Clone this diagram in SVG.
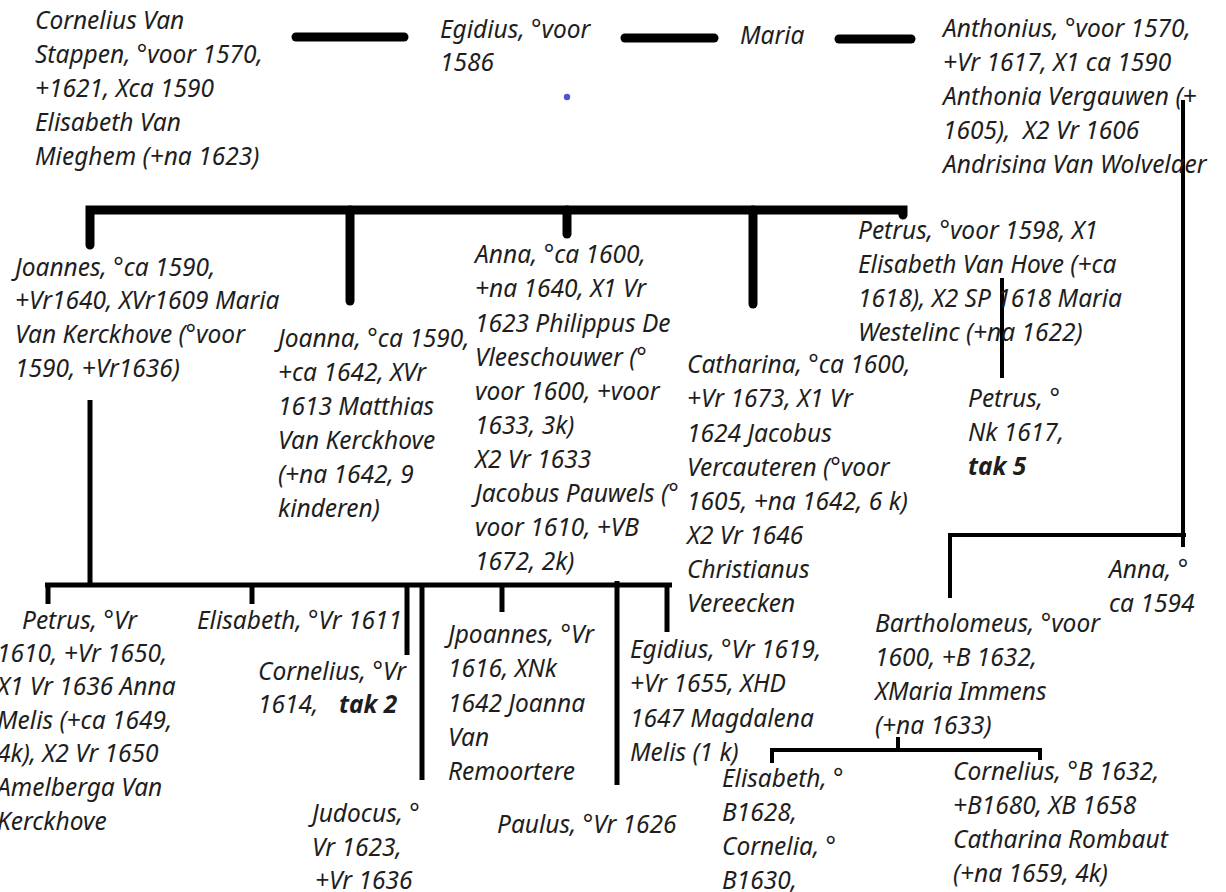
<svg xmlns="http://www.w3.org/2000/svg" width="1226" height="892" viewBox="0 0 1226 892">
<style>
text{font-family:"Noto Sans","Open Sans","DejaVu Sans",sans-serif;font-style:italic;font-size:24.5px;fill:#1e1e1e}
.b{font-weight:bold}
.thick{stroke:#000;stroke-width:9;stroke-linecap:round;fill:none}
.mid{stroke:#000;stroke-width:5;fill:none}
.thin{stroke:#000;stroke-width:4;fill:none}
</style>
<rect width="1226" height="892" fill="#fff"/>
<g id="connectors">
<line class="thick" x1="296" y1="37" x2="404" y2="37" stroke-width="10"/>
<line class="thick" x1="625" y1="38" x2="714" y2="38" stroke-width="10"/>
<line class="thick" x1="839" y1="39" x2="911" y2="39" stroke-width="10"/>
<path class="thick" d="M90 245 V210 H903 V215"/>
<line class="thick" x1="350" y1="210" x2="350" y2="301"/>
<line class="thick" x1="567" y1="210" x2="567" y2="234"/>
<line class="thick" x1="753" y1="210" x2="753" y2="304"/>
<line class="mid" x1="90" y1="400" x2="90" y2="585"/>
<path class="mid" d="M45 585 H672"/>
<line class="mid" x1="48" y1="585" x2="48" y2="604"/>
<line class="mid" x1="252" y1="585" x2="252" y2="604"/>
<line class="mid" x1="407" y1="585" x2="407" y2="655"/>
<line class="mid" x1="422" y1="585" x2="422" y2="780"/>
<line class="mid" x1="502" y1="585" x2="502" y2="612"/>
<line class="mid" x1="617" y1="581" x2="617" y2="785"/>
<line class="mid" x1="667" y1="583" x2="667" y2="632"/>
<line class="thin" x1="1002" y1="278" x2="1002" y2="378"/>
<path class="thin" d="M1183 100 V547 M950 598 V535 H1186"/>
<path class="thin" d="M772 763 V750 H1040 V760 M898 737 V750"/>
</g>
<circle cx="567" cy="97" r="3.2" fill="#4a55d6"/>
<g id="cornelius-van-stappen"><text x="35" y="29">Cornelius Van<tspan x="35" y="63">Stappen, °voor 1570,</tspan><tspan x="35" y="97">+1621, Xca 1590</tspan><tspan x="35" y="131">Elisabeth Van</tspan><tspan x="35" y="165">Mieghem (+na 1623)</tspan></text></g>
<g id="egidius"><text x="440" y="38">Egidius, °voor<tspan x="440" y="71">1586</tspan></text></g>
<g id="maria"><text x="740" y="44">Maria</text></g>
<g id="anthonius"><text x="943" y="37">Anthonius, °voor 1570,<tspan x="943" y="71">+Vr 1617, X1 ca 1590</tspan><tspan x="943" y="105">Anthonia Vergauwen (+</tspan><tspan x="943" y="139" xml:space="preserve">1605),  X2 Vr 1606</tspan><tspan x="943" y="173">Andrisina Van Wolvelaer</tspan></text></g>
<g id="joannes"><text x="15" y="276">Joannes, °ca 1590,<tspan x="15" y="309">+Vr1640, XVr1609 Maria</tspan><tspan x="15" y="343">Van Kerckhove (°voor</tspan><tspan x="15" y="377">1590, +Vr1636)</tspan></text></g>
<g id="joanna"><text x="278" y="347">Joanna, °ca 1590,<tspan x="278" y="381">+ca 1642, XVr</tspan><tspan x="278" y="415">1613 Matthias</tspan><tspan x="278" y="449">Van Kerckhove</tspan><tspan x="278" y="483">(+na 1642, 9</tspan><tspan x="278" y="517">kinderen)</tspan></text></g>
<g id="anna"><text x="475" y="263">Anna, °ca 1600,<tspan x="475" y="297">+na 1640, X1 Vr</tspan><tspan x="475" y="332">1623 Philippus De</tspan><tspan x="475" y="366">Vleeschouwer (°</tspan><tspan x="475" y="400">voor 1600, +voor</tspan><tspan x="475" y="434">1633, 3k)</tspan><tspan x="475" y="468">X2 Vr 1633</tspan><tspan x="475" y="502">Jacobus Pauwels (°</tspan><tspan x="475" y="536">voor 1610, +VB</tspan><tspan x="475" y="570">1672, 2k)</tspan></text></g>
<g id="catharina"><text x="687" y="373">Catharina, °ca 1600,<tspan x="687" y="407">+Vr 1673, X1 Vr</tspan><tspan x="687" y="442">1624 Jacobus</tspan><tspan x="687" y="476">Vercauteren (°voor</tspan><tspan x="687" y="510">1605, +na 1642, 6 k)</tspan><tspan x="687" y="544">X2 Vr 1646</tspan><tspan x="687" y="578">Christianus</tspan><tspan x="687" y="612">Vereecken</tspan></text></g>
<g id="petrus-1598"><text x="858" y="239">Petrus, °voor 1598, X1<tspan x="858" y="273">Elisabeth Van Hove (+ca</tspan><tspan x="858" y="307">1618), X2 SP 1618 Maria</tspan><tspan x="858" y="341">Westelinc (+na 1622)</tspan></text></g>
<g id="petrus-1617"><text x="968" y="407">Petrus, °<tspan x="968" y="441">Nk 1617,</tspan><tspan x="968" y="475" class="b">tak 5</tspan></text></g>
<g id="anna-1594"><text x="1109" y="578">Anna, °<tspan x="1109" y="612">ca 1594</tspan></text></g>
<g id="bartholomeus"><text x="875" y="632">Bartholomeus, °voor<tspan x="875" y="666">1600, +B 1632,</tspan><tspan x="875" y="700">XMaria Immens</tspan><tspan x="875" y="734">(+na 1633)</tspan></text></g>
<g id="petrus-1610"><text x="22" y="629">Petrus, °Vr<tspan x="-3" y="662">1610, +Vr 1650,</tspan><tspan x="-3" y="695">X1 Vr 1636 Anna</tspan><tspan x="-3" y="729">Melis (+ca 1649,</tspan><tspan x="-3" y="762">4k), X2 Vr 1650</tspan><tspan x="-3" y="796">Amelberga Van</tspan><tspan x="-3" y="830">Kerckhove</tspan></text></g>
<g id="elisabeth-1611"><text x="197" y="629">Elisabeth, °Vr 1611</text></g>
<g id="cornelius-1614"><text x="258" y="680">Cornelius, °Vr<tspan x="258" y="713">1614,</tspan><tspan x="339" y="713" class="b">tak 2</tspan></text></g>
<g id="judocus"><text x="312" y="822">Judocus, °<tspan x="312" y="856">Vr 1623,</tspan><tspan x="315" y="889">+Vr 1636</tspan></text></g>
<g id="jpoannes"><text x="448" y="643">Jpoannes, °Vr<tspan x="448" y="677">1616, XNk</tspan><tspan x="448" y="712">1642 Joanna</tspan><tspan x="448" y="746">Van</tspan><tspan x="448" y="780">Remoortere</tspan></text></g>
<g id="paulus"><text x="497" y="833">Paulus, °Vr 1626</text></g>
<g id="egidius-1619"><text x="630" y="658">Egidius, °Vr 1619,<tspan x="630" y="692">+Vr 1655, XHD</tspan><tspan x="630" y="727">1647 Magdalena</tspan><tspan x="630" y="761">Melis (1 k)</tspan></text></g>
<g id="elisabeth-1628"><text x="722" y="787">Elisabeth, °<tspan x="722" y="821">B1628,</tspan><tspan x="722" y="855">Cornelia, °</tspan><tspan x="722" y="889">B1630,</tspan></text></g>
<g id="cornelius-1632"><text x="953" y="780">Cornelius, °B 1632,<tspan x="953" y="814">+B1680, XB 1658</tspan><tspan x="953" y="848">Catharina Rombaut</tspan><tspan x="953" y="882">(+na 1659, 4k)</tspan></text></g>
</svg>
